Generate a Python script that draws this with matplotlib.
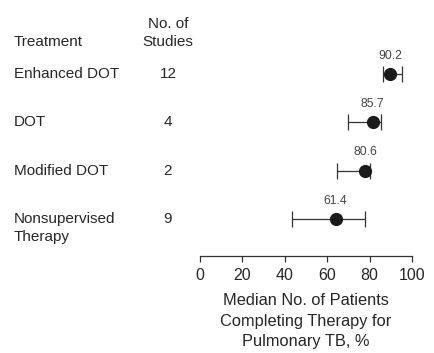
import matplotlib
matplotlib.use("Agg")
import matplotlib.pyplot as plt

plt.rcParams['font.family'] = ['Liberation Sans', 'DejaVu Sans']

treatments = ["Enhanced DOT", "DOT", "Modified DOT", "Nonsupervised\nTherapy"]
n_studies = ["12", "4", "2", "9"]
median_labels = ["90.2", "85.7", "80.6", "61.4"]
# positions of dots and whiskers
medians = [89.6, 81.4, 77.8, 64.0]
lower = [86.2, 70.0, 64.5, 43.5]
upper = [95.3, 85.5, 80.2, 77.7]
xticks = [0, 20, 40, 60, 80, 100]

W, H = 435, 353
fig = plt.figure(figsize=(W / 100, H / 100), dpi=100)
ax_left, ax_right = 200, 412
ax_top, ax_bot = 50, 256
ax = fig.add_axes([ax_left / W, 1 - ax_bot / H, (ax_right - ax_left) / W, (ax_bot - ax_top) / H])

row0, step = 74, 48.4
ax.set_xlim(0, 100)
ax.set_ylim((ax_bot - row0) / step, (ax_top - row0) / step)

text_color = "#262626"
ys = list(range(len(treatments)))
for i in ys:
    ax.errorbar(medians[i], i, xerr=[[medians[i] - lower[i]], [upper[i] - medians[i]]],
                fmt='o', color='#1a1a1a', ecolor='#333333', elinewidth=0.9,
                capsize=5.5, capthick=0.9, markersize=8.5, zorder=3)
    ax.text(medians[i], i - 0.38, median_labels[i], ha='center', va='center',
            fontsize=8.7, color='#444444')

def px_to_axes_x(px):
    return (px - ax_left) / (ax_right - ax_left)

tr = ax.get_yaxis_transform()
for i in ys:
    multi = '\n' in treatments[i]
    ax.text(px_to_axes_x(14), i + 0.18 if multi else i, treatments[i], transform=tr, ha='left',
            va='center', fontsize=11, color=text_color, linespacing=1.4, clip_on=False)
    ax.text(px_to_axes_x(168), i, n_studies[i], transform=tr, ha='center', va='center',
            fontsize=11, color=text_color, clip_on=False)

fig.text(14 / W, 1 - 42 / H, "Treatment", ha='left', va='center', fontsize=11, color=text_color)
fig.text(168 / W, 1 - 33 / H, "No. of\nStudies", ha='center', va='center', fontsize=11,
         color=text_color, linespacing=1.4)

for s in ['top', 'right', 'left']:
    ax.spines[s].set_visible(False)
ax.spines['bottom'].set_linewidth(0.9)
ax.spines['bottom'].set_color('#333333')
ax.set_yticks([])
ax.set_xticks(xticks)
ax.tick_params(axis='x', direction='out', length=4, width=0.9, colors='#333333',
               labelsize=11.5, labelcolor=text_color, pad=5)
ax.set_xlabel("Median No. of Patients\nCompleting Therapy for\nPulmonary TB, %",
              fontsize=11.8, color=text_color, linespacing=1.45, labelpad=7)

fig.savefig("out.png", dpi=100)
